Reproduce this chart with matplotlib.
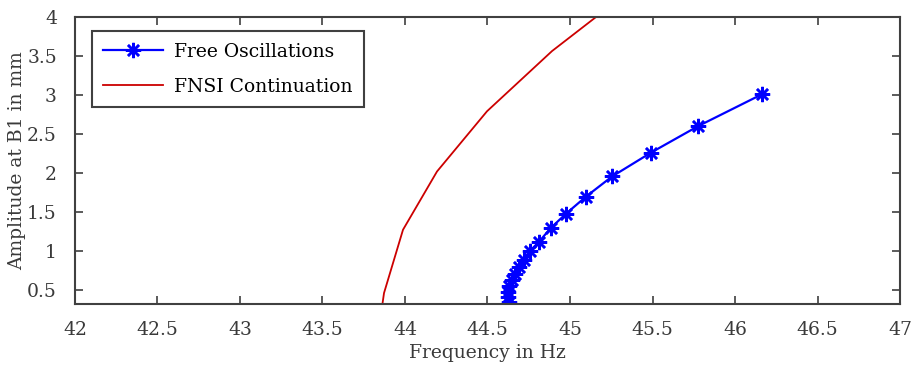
import matplotlib.pyplot as plt

# Free oscillations (blue asterisks)
free_freq = [44.630, 44.624, 44.624, 44.630, 44.648, 44.667, 44.691, 44.721,
             44.758, 44.812, 44.885, 44.976, 45.097, 45.255, 45.490, 45.776, 46.164]
free_amp = [0.346, 0.410, 0.474, 0.552, 0.629, 0.706, 0.796, 0.886,
            1.002, 1.118, 1.298, 1.478, 1.697, 1.955, 2.260, 2.600, 3.010]

# FNSI continuation (red line)
fnsi_freq = [43.862, 43.873, 43.988, 44.194, 44.497, 44.891, 45.170]
fnsi_amp = [0.30, 0.461, 1.272, 2.019, 2.791, 3.563, 4.02]

xticks = [42, 42.5, 43, 43.5, 44, 44.5, 45, 45.5, 46, 46.5, 47]
yticks = [0.5, 1, 1.5, 2, 2.5, 3, 3.5, 4]

plt.rcParams["font.family"] = ["DejaVu Serif"]
axcol = "#404040"
txtcol = "#3a3a3a"
fs = 13.5

fig = plt.figure(figsize=(9.13, 3.67), dpi=100)
ax = fig.add_axes([0.0821, 0.1717, 0.9037, 0.782])

ax.plot(free_freq, free_amp, color="#0000ff", lw=1.6, marker=(8, 2, 0),
        markersize=11, markeredgewidth=1.8, label="Free Oscillations")
ax.plot(fnsi_freq, fnsi_amp, color="#cc0000", lw=1.3, label="FNSI Continuation")

ax.set_xlim(42, 47)
ax.set_ylim(0.32, 4)
ax.set_xticks(xticks)
ax.set_xticklabels([f"{v:g}" for v in xticks])
ax.set_yticks(yticks)
ax.set_yticklabels([f"{v:g}" for v in yticks])

ax.tick_params(axis="both", direction="in", length=6, width=1.2, colors=axcol,
               labelcolor=txtcol, labelsize=fs, top=True, right=True)
ax.tick_params(axis="x", pad=12)
ax.tick_params(axis="y", pad=13)
for s in ax.spines.values():
    s.set_color(axcol)
    s.set_linewidth(1.5)

ax.set_xlabel("Frequency in Hz", fontsize=fs, color=txtcol, labelpad=4)
ax.set_ylabel("Amplitude at B1 in mm", fontsize=fs, color=txtcol, labelpad=1)

leg = ax.legend(loc="upper left", fontsize=fs, fancybox=False, framealpha=1,
                edgecolor=axcol, borderpad=0.62, handlelength=3.2,
                handletextpad=0.55, bbox_to_anchor=(0.009, 0.983),
                labelspacing=0.9)
leg.get_frame().set_linewidth(1.5)

fig.savefig("out.png", dpi=100)
